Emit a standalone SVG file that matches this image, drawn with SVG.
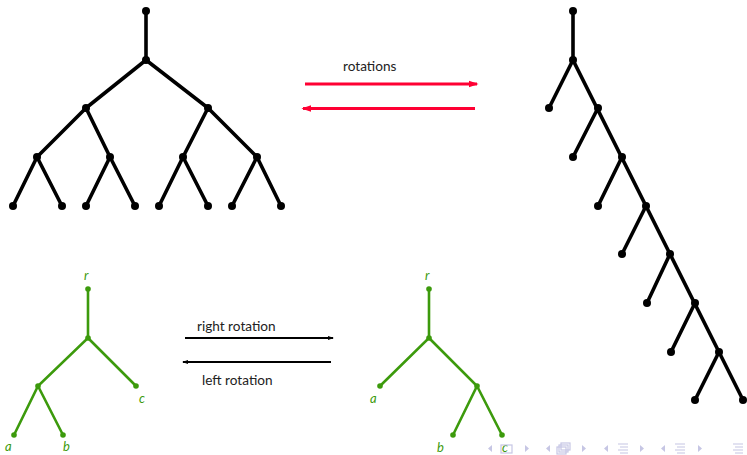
<svg xmlns="http://www.w3.org/2000/svg" width="747" height="455" viewBox="0 0 747 455">
<style>
.bt{stroke:#000;stroke-width:3.6;fill:none;stroke-linecap:round}
.bd{fill:#000}
.gt{stroke:#3c9a0c;stroke-width:2.6;fill:none;stroke-linecap:round}
.gd{fill:#3c9a0c}
.lbl{font-family:Lato,"Open Sans",sans-serif;font-size:13.6px;fill:#222}
.gl{font-family:Lato,"Open Sans",sans-serif;font-size:13px;font-style:italic;fill:#3c9a0c}
.nav{fill:none;stroke:#c6c6e4;stroke-width:1.2}
.navf{fill:#c6c6e4}
</style>
<defs>
<marker id="ra" viewBox="0 0 6 6" refX="5" refY="3" markerWidth="3" markerHeight="3" orient="auto"><path d="M0,1 L6,3 L0,5 z" fill="#ff0033"/></marker>
<marker id="ka" viewBox="0 0 6 6" refX="5" refY="3" markerWidth="3.5" markerHeight="3.5" orient="auto"><path d="M0,1 L6,3 L0,5 z" fill="#000"/></marker>
</defs>
<g id="connectors">
<line x1="305" y1="84" x2="477" y2="84" stroke="#ff0033" stroke-width="3.2" marker-end="url(#ra)"/>
<line x1="475" y1="108.5" x2="303" y2="108.5" stroke="#ff0033" stroke-width="3.2" marker-end="url(#ra)"/>
<line x1="185" y1="338" x2="333" y2="338" stroke="#000" stroke-width="1.8" marker-end="url(#ka)"/>
<line x1="331" y1="362" x2="183" y2="362" stroke="#000" stroke-width="1.8" marker-end="url(#ka)"/>
</g>
<g id="label-rotations"><text class="lbl" x="343" y="71">rotations</text></g>
<g id="label-right"><text class="lbl" x="197" y="331">right rotation</text></g>
<g id="label-left"><text class="lbl" x="202" y="385">left rotation</text></g>
<g id="tree-balanced">
<path class="bt" d="M146,11 V60 M146,60 L86,108 M146,60 L208,108 M86,108 L37,157 M86,108 L110,157 M208,108 L183,157 M208,108 L257,157 M37,157 L13,206 M37,157 L62,206 M110,157 L86,206 M110,157 L135,206 M183,157 L159,206 M183,157 L208,206 M257,157 L232,206 M257,157 L281,206"/>
<g class="bd">
<circle cx="146" cy="11" r="4"/><circle cx="146" cy="60" r="4"/>
<circle cx="86" cy="108" r="4"/><circle cx="208" cy="108" r="4"/>
<circle cx="37" cy="157" r="4"/><circle cx="110" cy="157" r="4"/><circle cx="183" cy="157" r="4"/><circle cx="257" cy="157" r="4"/>
<circle cx="13" cy="206" r="4"/><circle cx="62" cy="206" r="4"/><circle cx="86" cy="206" r="4"/><circle cx="135" cy="206" r="4"/><circle cx="159" cy="206" r="4"/><circle cx="208" cy="206" r="4"/><circle cx="232" cy="206" r="4"/><circle cx="281" cy="206" r="4"/>
</g>
</g>
<g id="tree-chain">
<path class="bt" d="M573,11 V60 L719,352 L743,400 M573,60 L549,108 M598,108 L573,157 M622,157 L598,206 M646,206 L622,254 M670,254 L647,303 M695,303 L671,352 M719,352 L695,400"/>
<g class="bd">
<circle cx="573" cy="11" r="4"/><circle cx="573" cy="60" r="4"/>
<circle cx="549" cy="108" r="4"/><circle cx="598" cy="108" r="4"/>
<circle cx="573" cy="157" r="4"/><circle cx="622" cy="157" r="4"/>
<circle cx="598" cy="206" r="4"/><circle cx="646" cy="206" r="4"/>
<circle cx="622" cy="254" r="4"/><circle cx="670" cy="254" r="4"/>
<circle cx="647" cy="303" r="4"/><circle cx="695" cy="303" r="4"/>
<circle cx="671" cy="352" r="4"/><circle cx="719" cy="352" r="4"/>
<circle cx="695" cy="400" r="4"/><circle cx="743" cy="400" r="4"/>
</g>
</g>
<g id="tree-before">
<path class="gt" d="M88,289 V338 L38,386 L14,435 M38,386 L63,435 M88,338 L136,386"/>
<g class="gd">
<circle cx="88" cy="289" r="2.8"/><circle cx="88" cy="338" r="2.8"/><circle cx="38" cy="386" r="2.8"/><circle cx="136" cy="386" r="2.8"/><circle cx="14" cy="435" r="2.8"/><circle cx="63" cy="435" r="2.8"/>
</g>
<text class="gl" x="84" y="280">r</text>
<text class="gl" x="139" y="403">c</text>
<text class="gl" x="5" y="451">a</text>
<text class="gl" x="63" y="451">b</text>
</g>
<g id="tree-after">
<path class="gt" d="M429,289 V338 L380,386 M429,338 L477,386 L453,435 M477,386 L502,435"/>
<g class="gd">
<circle cx="429" cy="289" r="2.8"/><circle cx="429" cy="338" r="2.8"/><circle cx="380" cy="386" r="2.8"/><circle cx="477" cy="386" r="2.8"/><circle cx="453" cy="435" r="2.8"/><circle cx="502" cy="435" r="2.8"/>
</g>
<text class="gl" x="425" y="280">r</text>
<text class="gl" x="370" y="403">a</text>
<text class="gl" x="437" y="452">b</text>
<text class="gl" x="502" y="452">c</text>
</g>
<g id="nav">
<path class="navf" d="M492,445 L488,448.5 L492,452 z M525,445 L529,448.5 L525,452 z M550,445 L546,448.5 L550,452 z M582,445 L586,448.5 L582,452 z M608,445 L604,448.5 L608,452 z M640,445 L644,448.5 L640,452 z M665,445 L661,448.5 L665,452 z M698,445 L702,448.5 L698,452 z"/>
<rect class="nav" x="501" y="445" width="11" height="8"/>
<rect class="nav" x="557" y="447" width="9" height="7"/><rect class="nav" x="559" y="445" width="9" height="7"/><rect class="nav" x="561" y="443" width="9" height="7"/>
<path class="nav" d="M618,444 H628 M620,447 H628 M618,450 H628 M620,453 H628 M675,444 H685 M677,447 H685 M675,450 H685 M677,453 H685 M733,444 H743 M735,447 H743 M733,450 H743 M735,453 H743"/>
</g>
</svg>
